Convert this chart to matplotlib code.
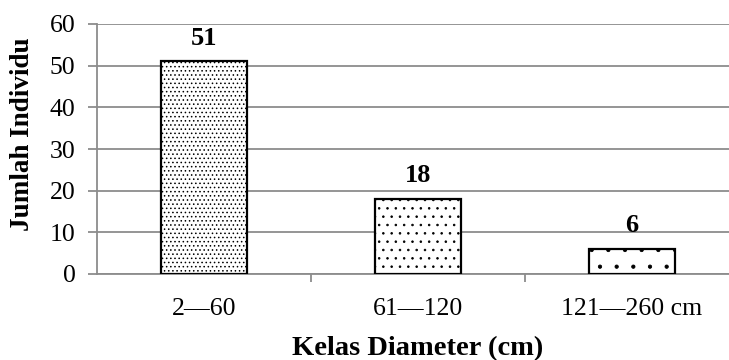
import matplotlib.pyplot as plt
import numpy as np

plt.rcParams['font.family'] = ['Liberation Serif', 'DejaVu Serif']
plt.rcParams['hatch.linewidth'] = 0.6

kelas = ['2\u201460', '61\u2014120', '121\u2014260 cm']
jumlah = [51, 18, 6]
pola = ['....', '..', '.']

W, H = 729, 360
fig = plt.figure(figsize=(W / 100, H / 100), dpi=100)
# axes run slightly past the right edge, as in the cropped original
ax = fig.add_axes([97 / W, 86 / H, 642 / W, 250 / H])

grey = '#8c8c8c'
x = np.arange(len(kelas))
for i in range(len(kelas)):
    ax.bar(x[i], jumlah[i], width=0.406, color='white', edgecolor='black',
           linewidth=1.6, hatch=pola[i], zorder=3)
    ax.text(x[i], jumlah[i] + 4, str(jumlah[i]), ha='center', va='baseline',
            fontsize=19, fontweight='bold')

ax.set_xlim(-0.5, 2.5)
ax.set_ylim(0, 60)
ax.set_yticks(range(0, 61, 10))
ax.set_xticks(x)
ax.set_xticklabels(kelas, fontsize=18.5)
ax.set_xticks([0.5, 1.5], minor=True)
ax.tick_params(axis='x', which='major', length=0, pad=17)
ax.tick_params(axis='x', which='minor', length=6, width=1.3, color=grey)
ax.tick_params(axis='y', length=6.5, width=1.3, color=grey, labelsize=18.5, pad=9)

ax.yaxis.grid(True, color=grey, linewidth=1.3, zorder=0)
ax.set_axisbelow(True)
for s in ['top', 'right']:
    ax.spines[s].set_visible(False)
for s in ['left', 'bottom']:
    ax.spines[s].set_color(grey)
    ax.spines[s].set_linewidth(1.3)

fig.text(23 / W, 1 - 134 / H, 'Jumlah Individu', rotation=90, ha='center',
         va='center', fontsize=19.5, fontweight='bold')
fig.text(418 / W, 1 - 355 / H, 'Kelas Diameter (cm)', ha='center',
         va='baseline', fontsize=20.5, fontweight='bold')

fig.savefig('out.png', dpi=100)
